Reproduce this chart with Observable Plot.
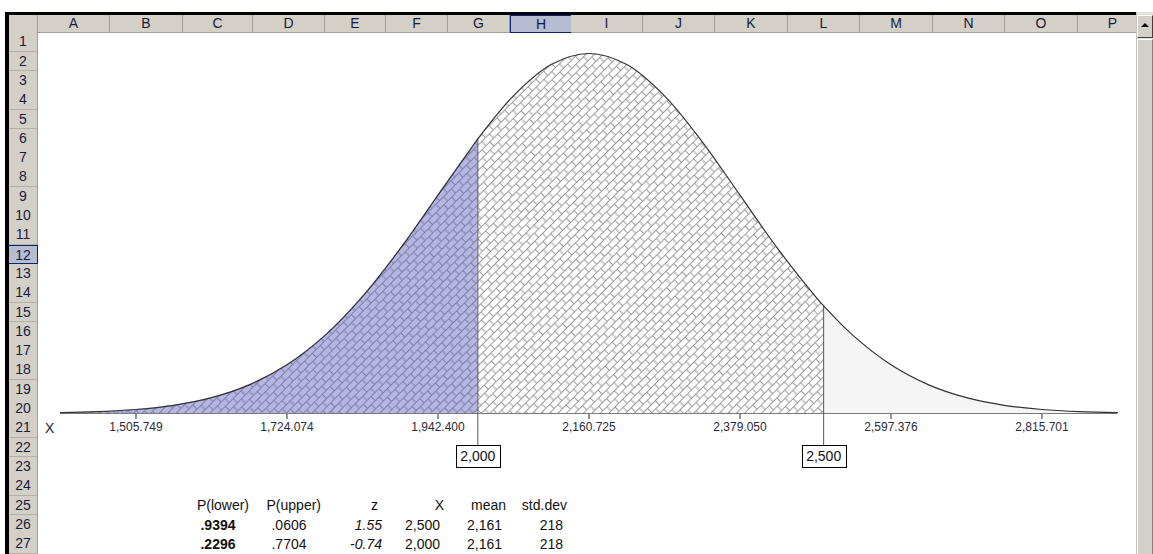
<!DOCTYPE html>
<html><head><meta charset="utf-8">
<script src="https://cdn.jsdelivr.net/npm/d3@7"></script>
<script src="https://cdn.jsdelivr.net/npm/@observablehq/plot@0.6"></script>
<style>
html,body{margin:0;padding:0;background:#fff;}
#page{position:relative;width:1153px;height:554px;overflow:hidden;font-family:Arial,"Liberation Sans",sans-serif;color:#000;}
#page div{position:absolute;box-sizing:border-box;white-space:nowrap;}
</style></head><body><div id="page"></div>
<script>
// ---------- data ----------
const mean = 2160.725;
const sd = 218.325;
// curve sample positions (in standard deviations from the mean) and relative heights (peak = 1)
const zGrid = [-3.5,-3.25,-3,-2.75,-2.5,-2.25,-2,-1.75,-1.5,-1.25,-1,-0.75,-0.5,-0.25,0,0.25,0.5,0.75,1,1.25,1.5,1.75,2,2.25,2.5,2.75,3,3.25,3.5];
const relHeight = [0.0022,0.0051,0.0111,0.0228,0.0439,0.0796,0.1353,0.2163,0.3247,0.4578,0.6065,0.7548,0.8825,0.9692,1,0.9692,0.8825,0.7548,0.6065,0.4578,0.3247,0.2163,0.1353,0.0796,0.0439,0.0228,0.0111,0.0051,0.0022];
const cutoffs = [2000, 2500];
const cutHeights = [0.7626, 0.2990];
const tickValues = [1505.749, 1724.074, 1942.400, 2160.725, 2379.050, 2597.376, 2815.701];
// table
const tableHeaders = ["P(lower)", "P(upper)", "z", "X", "mean", "std.dev"];
const pLower = [0.9394, 0.2296];
const pUpper = [0.0606, 0.7704];
const zValues = [1.55, -0.74];
const xValues = [2500, 2000];
const meanValues = [2161, 2161];
const sdValues = [218, 218];
const columnLetters = ["A","B","C","D","E","F","G","H","I","J","K","L","M","N","O","P"];
const rowCount = 27;

// ---------- spreadsheet chrome ----------
const page = document.getElementById("page");
function box(x, y, w, h, styles, text) {
  const d = document.createElement("div");
  Object.assign(d.style, {left: x + "px", top: y + "px", width: w + "px", height: h + "px"}, styles || {});
  if (text != null) d.textContent = text;
  page.appendChild(d);
  return d;
}
const colEdges = [38,110,183,253,325,386,448,510,571,643,715,788,860,933,1005,1078,1148];
const rowTop = 32.35, rowH = 19.3;
const headBg = "#d4d0c8", sepCol = "#a19e97";
// frame
box(5, 12, 1131, 3, {background: "#000"});
box(5, 12, 4, 542, {background: "#000"});
box(9, 15, 29, 18, {background: headBg, borderRight: "1px solid " + sepCol, borderBottom: "1px solid " + sepCol});
columnLetters.forEach((L, i) => {
  const sel = L === "H";
  box(colEdges[i], 15, colEdges[i+1] - colEdges[i] + (sel ? 1 : 0), 18, {
    background: sel ? "#b6bdd2" : headBg,
    borderRight: "1px solid " + (sel ? "#0a246a" : sepCol),
    borderLeft: sel ? "1px solid #0a246a" : "none",
    borderTop: sel ? "1px solid #0a246a" : "none",
    borderBottom: "1px solid " + (sel ? "#0a246a" : sepCol),
    font: "14px Arial, 'Liberation Sans', sans-serif", lineHeight: "17px", textAlign: "center", color: "#1a1a3a"
  }, L);
});
for (let r = 1; r <= rowCount; r++) {
  const sel = r === 12;
  box(9, rowTop + (r - 1) * rowH, 29, rowH + 0.5, {
    background: sel ? "#b6bdd2" : headBg,
    borderBottom: "1px solid " + (sel ? "#0a246a" : "#b3b0a9"),
    borderTop: sel ? "1px solid #0a246a" : "none",
    borderRight: "1px solid " + (sel ? "#0a246a" : sepCol),
    font: "14px Arial, 'Liberation Sans', sans-serif", lineHeight: (rowH - 1) + "px", textAlign: "center", color: "#1a1a3a"
  }, String(r));
}
// scrollbar
box(1136, 12, 17, 542, {background: "#e4e2dd", borderLeft: "1px solid #c8c5be"});
box(1137, 15, 16, 23, {background: headBg, borderTop: "1px solid #fff", borderLeft: "1px solid #fff", borderBottom: "1px solid #404040", borderRight: "1px solid #404040"});
box(1141, 23, 8, 5, {width: "0", height: "0", borderLeft: "4px solid transparent", borderRight: "4px solid transparent", borderBottom: "4px solid #000"});
box(1137, 39, 16, 515, {background: headBg, borderTop: "1px solid #fff", borderLeft: "1px solid #fff", borderRight: "1px solid #808080"});

// "X" label in A21
const rowCenter = r => rowTop + (r - 0.5) * rowH;
box(45, rowCenter(21) - 9, 20, 18, {font: "14px Arial, 'Liberation Sans', sans-serif", lineHeight: "18px", color: "#1a1a3a"}, "X");

// table rows 25-27 in columns C..H
const fmtP = v => v.toFixed(4).replace(/^0/, "");
const fmtInt = d3.format(",");
const tableRows = [
  tableHeaders,
  [fmtP(pLower[0]), fmtP(pUpper[0]), zValues[0].toFixed(2), fmtInt(xValues[0]), fmtInt(meanValues[0]), fmtInt(sdValues[0])],
  [fmtP(pLower[1]), fmtP(pUpper[1]), zValues[1].toFixed(2), fmtInt(xValues[1]), fmtInt(meanValues[1]), fmtInt(sdValues[1])]
];
const firstCol = 2; // column C
tableRows.forEach((row, ri) => {
  row.forEach((t, ci) => {
    const x0 = colEdges[firstCol + ci], x1 = colEdges[firstCol + ci + 1];
    const isHead = ri === 0;
    const centered = !isHead && ci < 2;
    const padR = isHead ? (ci === 2 ? 8 : 4) : (ci === 2 ? 4 : 8);
    box(x0, rowCenter(25 + ri) - 9, x1 - x0, 18, {
      font: (ci === 0 && !isHead ? "bold " : "") + (ci === 2 && !isHead ? "italic " : "") + "14px Arial, 'Liberation Sans', sans-serif",
      lineHeight: "18px", textAlign: centered ? "center" : "right", paddingRight: centered ? "0" : padR + "px", color: "#111"
    }, t);
  });
});

// ---------- the chart ----------
const pts = zGrid.map((z, i) => ({x: mean + z * sd, h: relHeight[i]}));
cutoffs.forEach((c, i) => pts.push({x: c, h: cutHeights[i]}));
pts.sort((a, b) => a.x - b.x);
const lower = pts.filter(d => d.x <= cutoffs[0]);
const middle = pts.filter(d => d.x >= cutoffs[0] && d.x <= cutoffs[1]);
const upper = pts.filter(d => d.x >= cutoffs[1]);
const cutPts = cutoffs.map((c, i) => ({x: c, h: cutHeights[i]}));

const svg = Plot.plot({
  width: 1098, height: 521,
  marginLeft: 22, marginRight: 19, marginTop: 20, marginBottom: 141,
  style: {fontFamily: "Arial, 'Liberation Sans', sans-serif", fontSize: "12px", background: "transparent", color: "#2a2a3a", overflow: "visible"},
  x: {domain: d3.extent(pts, d => d.x), ticks: tickValues, tickFormat: d3.format(",.3f"), tickSize: 6, tickPadding: 3, label: null},
  y: {domain: [0, 1], axis: null},
  marks: [
    Plot.areaY(upper, {x: "x", y: "h", fill: "#f5f5f5", curve: "catmull-rom"}),
    Plot.areaY(middle, {x: "x", y: "h", fill: "url(#hatchW)", curve: "catmull-rom"}),
    Plot.areaY(lower, {x: "x", y: "h", fill: "url(#hatchB)", curve: "catmull-rom"}),
    Plot.ruleY([0], {stroke: "#7a7a7a"}),
    Plot.ruleX(cutPts, {x: "x", y1: "h", y2: 0, stroke: "#555", insetBottom: -34}),
    Plot.line(pts, {x: "x", y: "h", stroke: "#333", strokeWidth: 1.2, curve: "catmull-rom"}),
    Plot.text(cutoffs, {x: d => d, text: d => fmtInt(d), frameAnchor: "bottom", lineAnchor: "middle", dy: 43, fontSize: 14, fill: "#111"})
  ]
});
svg.style.position = "absolute";
svg.style.left = "38px";
svg.style.top = "33px";
page.appendChild(svg);

// hatch patterns (Excel-like diagonal brick)
const defs = d3.select(svg).insert("defs", ":first-child");
function brick(id, bg, stroke) {
  const p = defs.append("pattern").attr("id", id).attr("patternUnits", "userSpaceOnUse")
    .attr("width", 11).attr("height", 12).attr("patternTransform", "rotate(-45)");
  p.append("rect").attr("width", 11).attr("height", 12).attr("fill", bg);
  p.append("path").attr("d", "M0,0.5H11M0,6.5H11M0.5,0.5V6.5M6,6.5V12.5")
    .attr("stroke", stroke).attr("stroke-width", 1).attr("fill", "none");
}
brick("hatchW", "#ffffff", "#9c9c9c");
brick("hatchB", "#b6b6e0", "#7e7eb2");

// boxes round the cutoff labels (use the screen position of each label)
const labelTexts = cutoffs.map(fmtInt);
const svgRect = svg.getBoundingClientRect();
d3.select(svg).selectAll("text").filter(function() { return labelTexts.includes(this.textContent); }).each(function() {
  const r = this.getBoundingClientRect();
  const cx = r.left + r.width / 2 - svgRect.left;
  const cy = r.top + r.height / 2 - svgRect.top;
  const w = r.width + 9;
  const rect = document.createElementNS("http://www.w3.org/2000/svg", "rect");
  svg.insertBefore(rect, this.closest("g"));
  d3.select(rect)
    .attr("x", Math.round(cx - w / 2) + 0.5).attr("y", Math.round(cy - 11) + 0.5).attr("width", Math.round(w)).attr("height", 22)
    .attr("fill", "#fff").attr("stroke", "#000").attr("stroke-width", 1);
});
</script></body></html>
